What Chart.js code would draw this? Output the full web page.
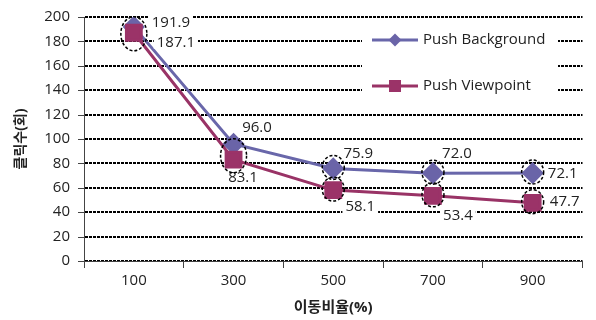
<!DOCTYPE html>
<html>
<head>
<meta charset="utf-8">
<script src="https://cdn.jsdelivr.net/npm/chart.js@4"></script>
<style>
  html, body { margin: 0; padding: 0; background: #fff; }
  canvas { display: block; }
</style>
</head>
<body>
<canvas id="c" width="596" height="320"></canvas>
<script>
// Click counts by movement ratio
const categories = ['100', '300', '500', '700', '900'];
const pushBackground = [191.9, 96.0, 75.9, 72.0, 72.1];
const pushViewpoint = [187.1, 83.1, 58.1, 53.4, 47.7];
const seriesNames = ['Push Background', 'Push Viewpoint'];
const yMin = 0, yMax = 200, yStep = 20;
const xTitle = '이동비율(%)';
const yTitle = '클릭수(회)';

const FONT = "'Open Sans', 'Noto Sans CJK KR', sans-serif";
const TEXT = '#222';
const BLUE = '#6967AA';
const RED = '#993366';

// value label placement (pixel offset from the point)
const labelOffsets = [
  [[37, -4.5], [23.5, -16.5], [25, -15], [24, -20], [30, 0]],
  [[42, 9], [9.5, 18], [27, 16], [25, 19], [32, -2]]
];

const markerPlugin = {
  id: 'markers',
  afterDatasetsDraw(chart) {
    const ctx = chart.ctx;
    const metas = chart.data.datasets.map((d, i) => chart.getDatasetMeta(i));
    ctx.save();
    // value labels on white boxes
    ctx.font = '15px ' + FONT;
    ctx.textAlign = 'center';
    ctx.textBaseline = 'middle';
    metas.forEach((meta, di) => {
      const ds = chart.data.datasets[di];
      meta.data.forEach((pt, i) => {
        const txt = ds.data[i].toFixed(1);
        const [dx, dy] = labelOffsets[di][i];
        const x = pt.x + dx, y = pt.y + dy;
        const w = ctx.measureText(txt).width + 6;
        ctx.fillStyle = '#fff';
        ctx.fillRect(x - w / 2, y - 7, w, 14);
        ctx.fillStyle = TEXT;
        ctx.fillText(txt, x, y + 0.5);
      });
    });
    // dashed rings around the points
    ctx.strokeStyle = '#000';
    ctx.lineWidth = 1.5;
    ctx.setLineDash([3, 2]);
    categories.forEach((c, i) => {
      const a = metas[0].data[i], b = metas[1].data[i];
      if (Math.abs(a.y - b.y) < 20) {
        const cx = (a.x + b.x) / 2, cy = (a.y + b.y) / 2 + 4;
        ctx.beginPath();
        ctx.ellipse(cx, cy, 13, 17, 0, 0, Math.PI * 2);
        ctx.stroke();
      } else {
        [a, b].forEach(p => {
          ctx.beginPath();
          ctx.ellipse(p.x, p.y - 1, 11, 12, 0, 0, Math.PI * 2);
          ctx.stroke();
        });
      }
    });
    ctx.setLineDash([]);
    // legend box inside the plot
    const lx = 362, ly = 25, lw = 196, lh = 80;
    ctx.fillStyle = '#fff';
    ctx.fillRect(lx, ly, lw, lh);
    const rows = [40, 86];
    chart.data.datasets.forEach((ds, i) => {
      const y = rows[i];
      ctx.strokeStyle = ds.borderColor;
      ctx.lineWidth = 3;
      ctx.beginPath();
      ctx.moveTo(372, y);
      ctx.lineTo(418, y);
      ctx.stroke();
      ctx.fillStyle = ds.pointBackgroundColor;
      if (ds.pointStyle === 'rectRot') {
        ctx.beginPath();
        ctx.moveTo(395, y - 6.5);
        ctx.lineTo(401.5, y);
        ctx.lineTo(395, y + 6.5);
        ctx.lineTo(388.5, y);
        ctx.closePath();
        ctx.fill();
      } else {
        ctx.fillRect(389, y - 6, 12, 12);
      }
      ctx.fillStyle = TEXT;
      ctx.font = '15px ' + FONT;
      ctx.textAlign = 'left';
      ctx.textBaseline = 'middle';
      ctx.fillText(ds.label, 423, y);
    });
    ctx.restore();
  }
};

// solid tick marks on the value axis
const yTickPlugin = {
  id: 'yTicks',
  afterDraw(chart) {
    const ctx = chart.ctx;
    const ys = chart.scales.y;
    ctx.save();
    ctx.strokeStyle = '#444';
    ctx.lineWidth = 1;
    ys.ticks.forEach(t => {
      const y = Math.round(ys.getPixelForValue(t.value)) + 0.5;
      ctx.beginPath();
      ctx.moveTo(ys.right - 6, y);
      ctx.lineTo(ys.right, y);
      ctx.stroke();
    });
    ctx.restore();
  }
};

new Chart(document.getElementById('c'), {
  type: 'line',
  data: {
    labels: categories,
    datasets: [
      {
        label: seriesNames[0],
        data: pushBackground,
        borderColor: BLUE,
        backgroundColor: BLUE,
        pointBackgroundColor: '#6A64A8',
        pointBorderColor: '#6A64A8',
        pointStyle: 'rectRot',
        pointRadius: 9,
        borderWidth: 3,
        tension: 0,
        order: 2
      },
      {
        label: seriesNames[1],
        data: pushViewpoint,
        borderColor: RED,
        backgroundColor: RED,
        pointBackgroundColor: '#9B3368',
        pointBorderColor: '#9B3368',
        pointStyle: 'rect',
        pointRadius: 10.5,
        borderWidth: 3,
        tension: 0,
        order: 1
      }
    ]
  },
  options: {
    responsive: false,
    animation: false,
    layout: { padding: { top: 17, right: 11, left: 0, bottom: 0 } },
    plugins: {
      legend: { display: false },
      tooltip: { enabled: false }
    },
    scales: {
      x: {
        type: 'category',
        offset: true,
        grid: {
          display: true,
          drawOnChartArea: false,
          offset: true,
          color: '#444',
          tickLength: 7,
          tickWidth: 1
        },
        border: { display: true, color: '#444', width: 1 },
        ticks: { color: TEXT, font: { family: FONT, size: 15 }, padding: 4, maxRotation: 0 },
        title: {
          display: true,
          text: xTitle,
          color: TEXT,
          font: { family: FONT, size: 15, weight: 'bold' },
          padding: { top: 0, bottom: 3 }
        },
        afterFit(scale) { scale.height = 59; }
      },
      y: {
        min: yMin,
        max: yMax,
        ticks: { stepSize: yStep, color: TEXT, font: { family: FONT, size: 15 }, padding: 8 },
        grid: {
          color: '#000',
          lineWidth: 2,
          drawTicks: true,
          tickLength: 6,
          tickColor: 'rgba(0,0,0,0)'
        },
        border: { display: true, color: '#444', width: 1, dash: [3, 1] },
        title: {
          display: true,
          text: yTitle,
          color: TEXT,
          font: { family: FONT, size: 14, weight: 'bold' },
          padding: { top: 13, bottom: 0 }
        },
        afterFit(scale) { scale.width = 84; }
      }
    }
  },
  plugins: [markerPlugin, yTickPlugin]
});
</script>
</body>
</html>
